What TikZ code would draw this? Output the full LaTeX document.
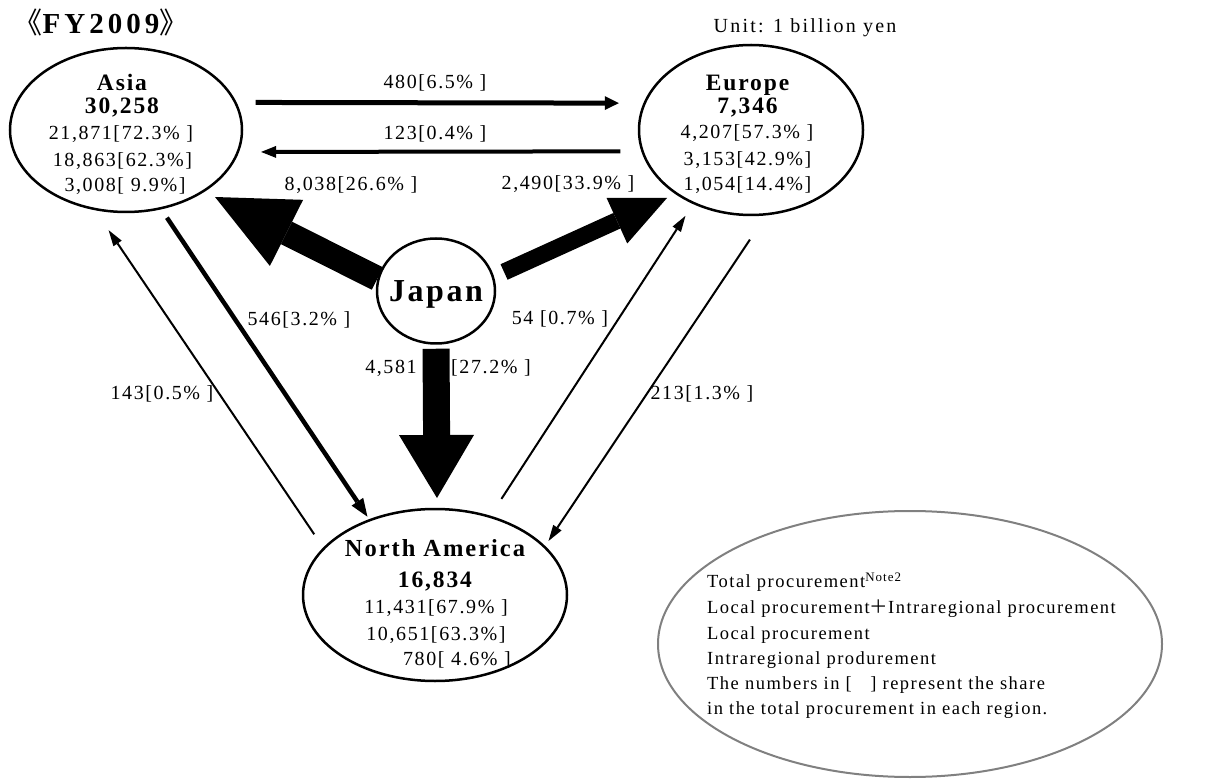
\documentclass[tikz,border=0pt]{standalone}
\usepackage{fontspec}
\setmainfont{Liberation Serif}[LetterSpace=8]
\newfontfamily\cjk{Noto Sans CJK JP}
\usetikzlibrary{arrows.meta,shapes.geometric}
\begin{document}
\begin{tikzpicture}[x=1pt,y=-1pt,
  region/.style={draw, ellipse, line width=2.5pt, inner sep=0pt},
  txt/.style={anchor=base, inner sep=0pt, font=\fontsize{20}{24}\selectfont},
  bigtxt/.style={anchor=base, inner sep=0pt, font=\fontsize{23.5}{26}\selectfont\bfseries},
  legtxt/.style={anchor=base west, inner sep=0pt, font=\fontsize{18.5}{22}\selectfont},
  thinarrow/.style={line width=2pt, -{Triangle[length=16pt,width=10pt,line width=0pt]}},
  midarrow/.style={line width=4.5pt, -{Triangle[length=18pt,width=14pt,line width=0pt]}},
  blockA/.style={line width=25pt, -{Triangle[length=80pt,width=74pt,line width=0pt]}},
  blockE/.style={line width=17pt, -{Triangle[length=55pt,width=50pt,line width=0pt]}},
  blockN/.style={line width=27pt, -{Triangle[length=63pt,width=75pt,line width=0pt]}}
]
\useasboundingbox (0,0) rectangle (1213,783);

% title and unit
\node[anchor=base, inner sep=0pt, font=\fontsize{29}{32}\selectfont\bfseries\addfontfeatures{LetterSpace=14}] (title) at (101,33.5) {{\cjk\mdseries 《}FY2009{\cjk\mdseries 》}};
\node[txt, font=\fontsize{20}{24}\selectfont\addfontfeatures{LetterSpace=11}] (unit) at (805,33) {Unit: 1 billion yen};

% regions
\node[region, minimum width=232pt, minimum height=164pt] (asia) at (126,130) {};
\node[region, minimum width=224pt, minimum height=170pt] (europe) at (751,130) {};
\node[region, minimum width=118pt, minimum height=105pt] (japan) at (436,291) {};
\node[region, minimum width=264pt, minimum height=172pt] (na) at (435,595) {};
\node[draw=black!50, ellipse, line width=2pt, minimum width=504pt, minimum height=266pt] (legend) at (910,644) {};

% Asia text
\node[bigtxt] (asiaN) at (122,90.5) {Asia};
\node[bigtxt] (asiaT) at (122,113.3) {30,258};
\node[txt] (asia1) at (121,139.3) {21,871[72.3\% ]};
\node[txt] (asia2) at (122.5,166.5) {18,863[62.3\%]};
\node[txt] (asia3) at (125,191.5) {3,008[ 9.9\%]};

% Europe text
\node[bigtxt] (eurN) at (747.5,90.5) {Europe};
\node[bigtxt] (eurT) at (747.5,113.3) {7,346};
\node[txt] (eur1) at (747,138.5) {4,207[57.3\% ]};
\node[txt] (eur2) at (747.5,165.5) {3,153[42.9\%]};
\node[txt] (eur3) at (747.5,190.5) {1,054[14.4\%]};

% Japan text
\node[anchor=base, inner sep=0pt, font=\fontsize{32}{36}\selectfont\bfseries] (japN) at (436,301.5) {Japan};

% North America text
\node[anchor=base, inner sep=0pt, font=\fontsize{24.5}{28}\selectfont\bfseries] (naN) at (435,556.7) {North America};
\node[bigtxt] (naT) at (435,587.7) {16,834};
\node[txt] (na1) at (436,613.3) {11,431[67.9\% ]};
\node[txt] (na2) at (436,640) {10,651[63.3\%]};
\node[txt] (na3) at (457,665) {780[ 4.6\% ]};

% legend text
\node[legtxt] (leg1) at (707,587.3) {Total procurement\textsuperscript{Note2}};
\node[legtxt] (leg2) at (707,613.3) {Local procurement{\cjk ＋}Intraregional procurement};
\node[legtxt] (leg3) at (707,639.3) {Local procurement};
\node[legtxt] (leg4) at (707,664) {Intraregional produrement};
\node[legtxt] (leg5) at (707,689) {The numbers in [\quad] represent the share};
\node[legtxt] (leg6) at (707,714.3) {in the total procurement in each region.};

% block arrows from Japan
\coordinate (tipA) at (215,197);
\coordinate (tipE) at (667,198);
\coordinate (tipN) at (437,498);
\draw[blockA] (japan.168) -- (tipA);
\draw[blockE, shorten <=11pt] (japan.14) -- (tipE);
\draw[blockN, shorten <=4pt] (japan.south) -- (tipN);

% arrows between regions
\draw[line width=5pt, -{Triangle[length=14pt,width=14pt,line width=0pt]}, shorten <=19pt, shorten >=24.6pt] (asia.14) -- (europe.166);
\draw[line width=4pt, -{Triangle[length=15pt,width=12pt,line width=0pt]}, shorten <=21pt, shorten >=22pt] (europe.191) -- (asia.349);
\draw[midarrow, shorten <=10pt, shorten >=3pt] (asia.294) -- (na.131);
\draw[thinarrow, shorten <=16pt, shorten >=24pt] (na.157) -- (asia.249);
\draw[thinarrow, shorten <=20pt, shorten >=14pt] (na.55) -- (europe.232);
\draw[thinarrow, shorten <=29pt, shorten >=6pt] (europe.280) -- (na.24);

% arrow labels
\node[txt] (l480) at (435,88.3) {480[6.5\% ]};
\node[txt] (l123) at (435,140) {123[0.4\% ]};
\node[txt] (l8038) at (351,190.7) {8,038[26.6\% ]};
\node[txt] (l2490) at (568,190) {2,490[33.9\% ]};
\node[txt] (l546) at (299,326) {546[3.2\% ]};
\node[txt] (l143) at (162,399.3) {143[0.5\% ]};
\node[txt] (l54) at (560,325) {54 [0.7\% ]};
\node[txt] (l213) at (702,399.3) {213[1.3\% ]};
\node[txt] (l4581) at (391,374) {4,581};
\node[txt] (l272) at (491,374) {[27.2\% ]};
\end{tikzpicture}
\end{document}
